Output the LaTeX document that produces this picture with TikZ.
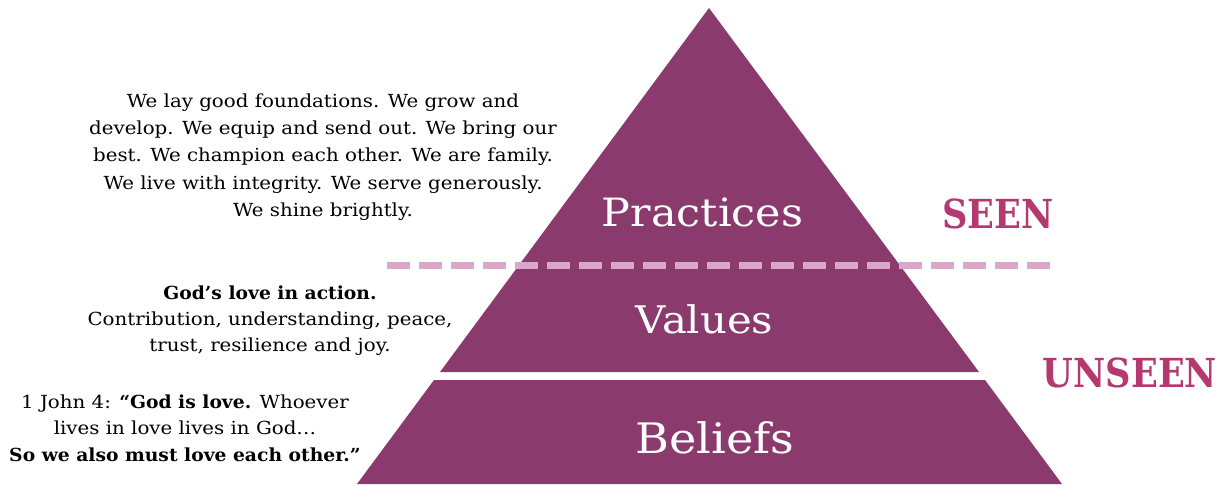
\documentclass[tikz,border=0pt]{standalone}
\usepackage{fontspec}
\setmainfont{DejaVu Serif}[FakeStretch=1.1]
\newfontfamily\bfx{DejaVu Serif Bold}[FakeStretch=1.04]
\newfontfamily\lblfont{DejaVu Serif}[FakeStretch=1.1]
\newfontfamily\sidefont{DejaVu Serif Bold}[FakeStretch=0.88]
\definecolor{plum}{HTML}{8B3A6E}
\definecolor{dashpink}{HTML}{D9A7C7}
\definecolor{seencol}{HTML}{B3396F}
\begin{document}
\begin{tikzpicture}[x=1pt,y=-1pt,
  layer/.style={fill=plum, draw=none},
  lbl/.style={text=white, inner sep=0, anchor=base},
  body/.style={align=center, inner sep=0},
  side/.style={text=seencol, font=\sidefont\fontsize{40}{44}\selectfont, inner sep=0, anchor=base},
  divider/.style={draw=dashpink, line width=7pt, dash pattern=on 23pt off 9pt}]
\useasboundingbox (0,0) rectangle (1228,486);
% pyramid layers
\fill[layer] (709,8) -- (979,372) -- (440,372) -- cycle;
\fill[layer] (434,380) -- (985,380) -- (1062,484) -- (357,484) -- cycle;
% divider
\coordinate (dl) at (387,266);
\coordinate (dr) at (1052,266);
\draw[divider] (dl) -- (dr);
% layer labels
\node[lbl, font=\lblfont\fontsize{39}{44}\selectfont] (practices) at (702.5,227) {Practices};
\node[lbl, font=\lblfont\fontsize{38}{44}\selectfont] (values) at (704.5,333) {Values};
\node[lbl, font=\lblfont\fontsize{42}{44}\selectfont] (beliefs) at (715,453) {Beliefs};
% side labels
\node[side] (seen) at (998,229) {SEEN};
\node[side] (unseen) at (1130,387) {UNSEEN};
% descriptions
\node[body, font=\fontsize{18}{27.2}\selectfont] (ptext) at (323,157) {We lay good foundations. We grow and\\develop. We equip and send out. We bring our\\best. We champion each other. We are family.\\We live with integrity. We serve generously.\\We shine brightly.};
\node[body, font=\fontsize{18}{26.1}\selectfont] (vtext) at (270,321) {{\bfx God’s love in action.}\\Contribution, understanding, peace,\\trust, resilience and joy.};
\node[body, font=\fontsize{18}{26.7}\selectfont] (btext) at (185,428) {1 John 4: {\bfx “God is love.} Whoever\\lives in love lives in God…\\{\bfx So we also must love each other.”}};
\end{tikzpicture}
\end{document}
